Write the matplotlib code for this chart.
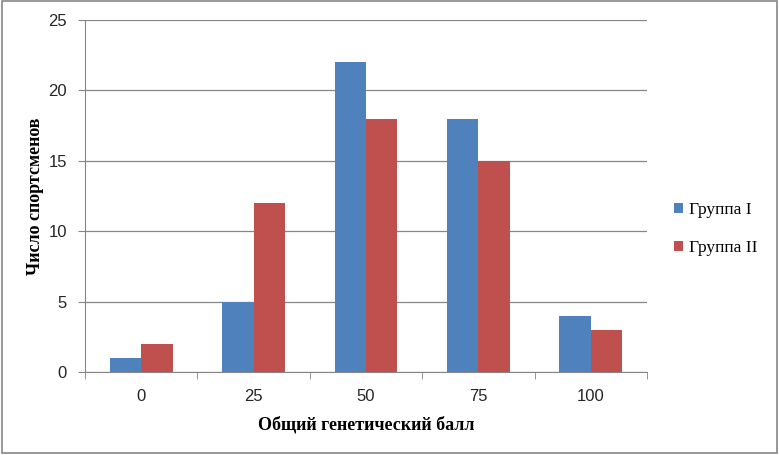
import matplotlib
matplotlib.use('Agg')
import matplotlib.pyplot as plt
import numpy as np
from matplotlib.patches import Rectangle

# Данные
categories = ["0", "25", "50", "75", "100"]
group1 = [1, 5, 22, 18, 4]
group2 = [2, 12, 18, 15, 3]
series_names = ["Группа I", "Группа II"]

fig = plt.figure(figsize=(7.79, 4.55), dpi=100)
ax = fig.add_axes([0.1091, 0.1824, 0.7215, 0.7736])

x = np.arange(len(categories))
w = 0.28
ax.bar(x - w / 2, group1, w, color="#4F81BD", label=series_names[0], zorder=3)
ax.bar(x + w / 2, group2, w, color="#C0504D", label=series_names[1], zorder=3)

ax.set_xlim(-0.5, len(categories) - 0.5)
ax.set_ylim(0, 25)
ax.set_yticks(range(0, 26, 5))
ax.grid(axis="y", color="#868686", linewidth=0.9, zorder=0)

# Подписи осей x по центрам, риски на границах
ax.set_xticks(x)
ax.set_xticklabels(categories, fontfamily="Liberation Sans", fontsize=12, color="#262626")
ax.set_xticks(np.arange(-0.5, len(categories)), minor=True)
ax.tick_params(axis="x", which="major", length=0, pad=12)
ax.tick_params(axis="x", which="minor", length=5, color="#868686", direction="out")
ax.tick_params(axis="y", length=5, color="#868686", pad=8)
for lbl in ax.get_yticklabels():
    lbl.set_fontfamily("Liberation Sans")
    lbl.set_fontsize(12)
    lbl.set_color("#262626")

for side in ["top", "right"]:
    ax.spines[side].set_visible(False)
ax.spines["left"].set_color("#868686")
ax.spines["bottom"].set_color("#868686")

ax.set_xlabel("Общий генетический балл", fontfamily="Liberation Serif",
              fontweight="bold", fontsize=13, labelpad=9)
ax.set_ylabel("Число спортсменов", fontfamily="Liberation Serif",
              fontweight="bold", fontsize=13, labelpad=3)

ax.legend(loc="center left", bbox_to_anchor=(1.02, 0.406), frameon=False,
          prop={"family": "Liberation Serif", "size": 12.5},
          handlelength=0.5, handleheight=0.5, handletextpad=0.35,
          labelspacing=1.3)

# Рамка вокруг всей диаграммы
fig.patches.append(Rectangle((0.003, 0.004), 0.994, 0.993, transform=fig.transFigure,
                             fill=False, edgecolor="#868686", linewidth=1.2))

plt.savefig("out.png", dpi=100)
plt.close()
